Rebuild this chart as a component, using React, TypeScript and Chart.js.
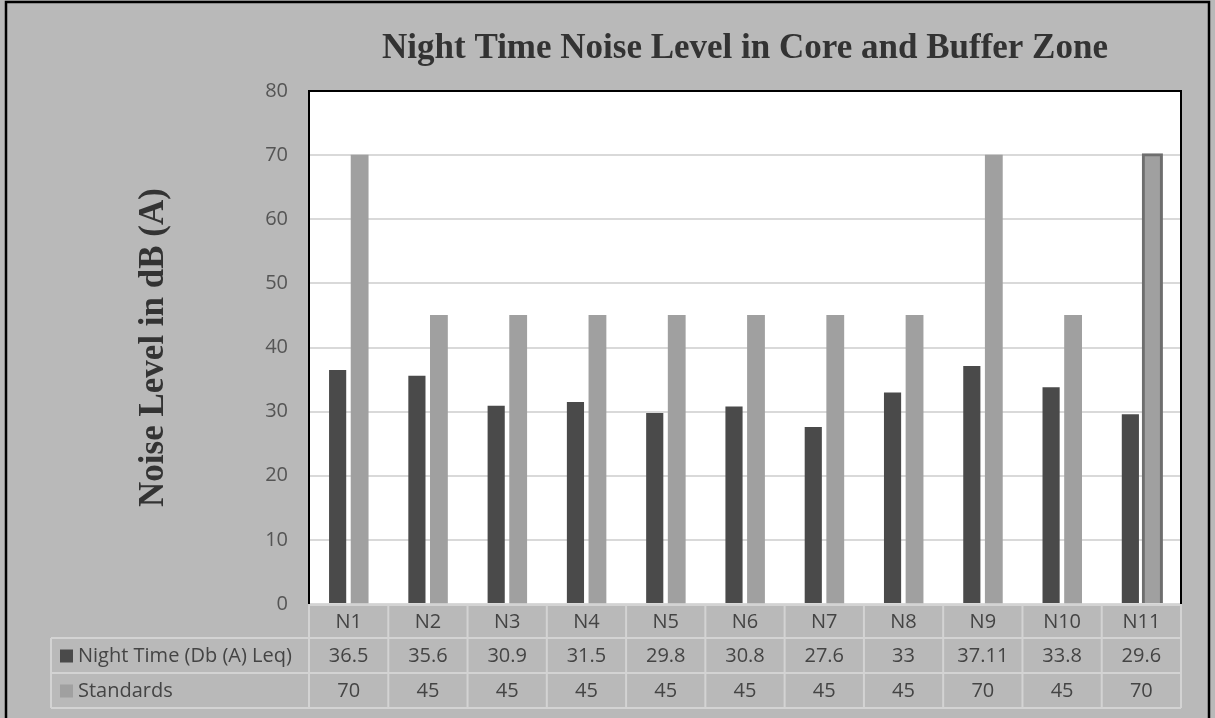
import { useEffect, useRef } from 'react';
import { Chart, registerables } from 'chart.js';

Chart.register(...registerables);

// Monitoring stations and measured night-time levels against the standards
const categories = ['N1', 'N2', 'N3', 'N4', 'N5', 'N6', 'N7', 'N8', 'N9', 'N10', 'N11'];
const nightTime = [36.5, 35.6, 30.9, 31.5, 29.8, 30.8, 27.6, 33, 37.11, 33.8, 29.6];
const standards = [70, 45, 45, 45, 45, 45, 45, 45, 70, 45, 70];
const seriesNames = ['Night Time (Db (A) Leq)', 'Standards'];
const titleText = 'Night Time Noise Level in Core and Buffer Zone';
const yAxisTitle = 'Noise Level in dB (A)';

const DARK = '#4a4a4a';
const LIGHT = '#a0a0a0';
const BG = '#b9b9b9';
const TABLE_LINE = '#d3d3d3';
const TEXT = '#444444';
const SANS = "'Open Sans', 'Liberation Sans', sans-serif";
const SERIF = "'Liberation Serif', 'DejaVu Serif', serif";

const W = 1215;
const H = 718;

// Background, plot frame and the data table under the category axis
const framePlugin = {
  id: 'frameAndTable',
  beforeDraw(chart: any) {
    const { ctx, chartArea } = chart;
    ctx.save();
    ctx.fillStyle = BG;
    ctx.fillRect(0, 0, chart.width, chart.height);
    ctx.fillStyle = '#ffffff';
    ctx.fillRect(chartArea.left, chartArea.top, chartArea.right - chartArea.left, chartArea.bottom - chartArea.top);
    ctx.restore();
  },
  afterDraw(chart: any) {
    const { ctx, chartArea } = chart;
    const { left, right, top, bottom } = chartArea;
    const xScale = chart.scales.x;
    const n = categories.length;
    const colW = (right - left) / n;
    const rowH = [34, 35, 35];
    const r0 = bottom;
    const r1 = r0 + rowH[0];
    const r2 = r1 + rowH[1];
    const r3 = r2 + rowH[2];
    const legendLeft = 51;

    ctx.save();
    // table grid
    ctx.strokeStyle = TABLE_LINE;
    ctx.lineWidth = 2;
    ctx.beginPath();
    ctx.moveTo(left, r0 + 1);
    ctx.lineTo(right, r0 + 1);
    [r1, r2, r3].forEach((y) => {
      ctx.moveTo(legendLeft, y);
      ctx.lineTo(right, y);
    });
    ctx.moveTo(legendLeft, r1);
    ctx.lineTo(legendLeft, r3);
    for (let i = 0; i <= n; i++) {
      const x = left + i * colW;
      ctx.moveTo(x, r0);
      ctx.lineTo(x, r3);
    }
    ctx.stroke();

    // table text
    ctx.fillStyle = TEXT;
    ctx.font = `20px ${SANS}`;
    ctx.textAlign = 'center';
    ctx.textBaseline = 'middle';
    categories.forEach((c, i) => {
      const x = xScale.getPixelForValue(i);
      ctx.fillText(c, x, (r0 + r1) / 2 + 1);
      ctx.fillText(String(nightTime[i]), x, (r1 + r2) / 2 + 1);
      ctx.fillText(String(standards[i]), x, (r2 + r3) / 2 + 1);
    });

    // legend keys inside the table
    const keyColors = [DARK, LIGHT];
    const rowMids = [(r1 + r2) / 2, (r2 + r3) / 2];
    ctx.textAlign = 'left';
    seriesNames.forEach((name, k) => {
      ctx.fillStyle = keyColors[k];
      ctx.fillRect(60, rowMids[k] - 6, 13, 13);
      ctx.fillStyle = TEXT;
      ctx.fillText(name, 78, rowMids[k] + 1);
    });

    // plot frame: left, top and right edges
    ctx.strokeStyle = '#000000';
    ctx.lineWidth = 2;
    ctx.beginPath();
    ctx.moveTo(left, bottom);
    ctx.lineTo(left, top);
    ctx.lineTo(right, top);
    ctx.lineTo(right, bottom);
    ctx.stroke();

    // outer border of the figure
    ctx.lineWidth = 2.5;
    ctx.strokeRect(6, 2, 1203, H + 20);
    ctx.restore();
  },
};

export default function App() {
  const canvasRef = useRef<HTMLCanvasElement>(null);

  useEffect(() => {
    if (!canvasRef.current) return;
    const lastIdx = categories.length - 1;
    const chart = new Chart(canvasRef.current, {
      type: 'bar',
      data: {
        labels: categories,
        datasets: [
          {
            label: seriesNames[0],
            data: nightTime,
            backgroundColor: DARK,
            borderWidth: 0,
            categoryPercentage: 0.555,
            barPercentage: 0.78,
          },
          {
            label: seriesNames[1],
            data: standards,
            backgroundColor: LIGHT,
            borderColor: '#6e6e6e',
            borderWidth: standards.map((_, i) => (i === lastIdx ? 3 : 0)),
            inflateAmount: standards.map((_, i) => (i === lastIdx ? 2 : 0.33)),
            categoryPercentage: 0.555,
            barPercentage: 0.78,
          } as any,
        ],
      },
      options: {
        animation: false,
        responsive: false,
        layout: { padding: { left: 0, right: 34, top: 0, bottom: 114 } },
        plugins: {
          legend: { display: false },
          tooltip: { enabled: false },
          title: {
            display: true,
            fullSize: false,
            text: titleText,
            color: '#333333',
            font: { family: SERIF, size: 35, weight: 'bold' },
            padding: { top: 28, bottom: 21 },
            align: 'center',
          },
        },
        scales: {
          x: {
            display: false,
          },
          y: {
            min: 0,
            max: 80,
            afterFit(scale: any) {
              scale.width = 309;
            },
            ticks: {
              stepSize: 10,
              padding: 21,
              color: '#555555',
              font: { family: SANS, size: 20 },
            },
            grid: {
              color: (ctx: any) => (ctx.tick && ctx.tick.value === 80 ? 'rgba(0,0,0,0)' : '#d9d9d9'),
              lineWidth: 2,
              drawTicks: false,
            },
            border: { display: false },
            title: {
              display: true,
              text: yAxisTitle,
              color: '#333333',
              font: { family: SERIF, size: 35, weight: 'bold' },
              padding: { top: 133, bottom: 0 },
            },
          },
        },
      } as any,
      plugins: [framePlugin],
    });
    return () => chart.destroy();
  }, []);

  return (
    <div style={{ position: 'fixed', left: 0, top: 0, width: W, height: H }}>
      <canvas ref={canvasRef} width={W} height={H} style={{ display: 'block' }} />
    </div>
  );
}
